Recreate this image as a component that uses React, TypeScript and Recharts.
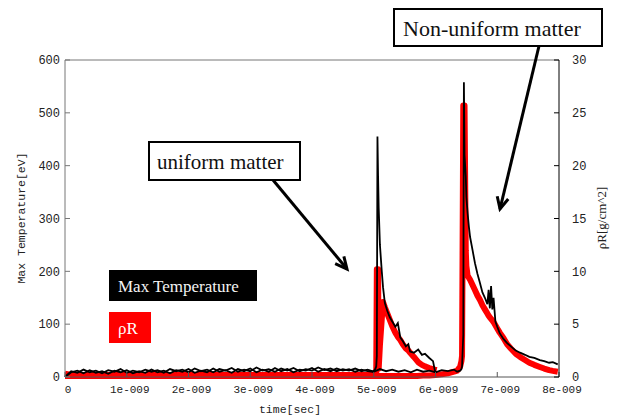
import React from 'react';
import { LineChart, Line, XAxis, YAxis, ReferenceLine } from 'recharts';

// time in units of 1e-009 sec
const uniformTime = [
  0, 0.1, 0.2, 0.3, 0.4, 0.5, 0.6, 0.7, 0.8, 0.9,
  1.0, 1.1, 1.2, 1.3, 1.4, 1.5, 1.6, 1.7, 1.8, 1.9,
  2.0, 2.1, 2.2, 2.3, 2.4, 2.5, 2.6, 2.7, 2.8, 2.9,
  3.0, 3.1, 3.2, 3.3, 3.4, 3.5, 3.6, 3.7, 3.8, 3.9,
  4.0, 4.1, 4.2, 4.3, 4.4, 4.5, 4.6, 4.7, 4.8, 4.9,
  4.98, 5.0, 5.02, 5.04, 5.05, 5.06, 5.07, 5.08, 5.1, 5.13,
  5.15, 5.18, 5.22, 5.26, 5.3, 5.35, 5.39, 5.43, 5.47, 5.52,
  5.56, 5.59, 5.65, 5.72, 5.78, 5.83, 5.9, 5.96, 5.99, 6.02,
];
const uniformTemp = [
  0, 9, 12, 7, 13, 8, 11, 6, 12, 9,
  13, 7, 11, 8, 14, 9, 12, 7, 13, 10,
  15, 8, 12, 9, 16, 10, 13, 8, 15, 11,
  16, 9, 14, 10, 17, 11, 15, 9, 14, 12,
  17, 10, 15, 11, 16, 12, 15, 10, 14, 11,
  10, 12, 14, 20, 40, 455, 380, 320, 250, 200,
  170, 140, 125, 113, 105, 95, 102, 75, 68, 58,
  62, 48, 46, 52, 42, 44, 36, 30, 12, 8,
];
const uniformRho = [
  0.3, 0.2, 0.2, 0.2, 0.2, 0.2, 0.2, 0.2, 0.2, 0.2,
  0.2, 0.2, 0.2, 0.2, 0.2, 0.2, 0.2, 0.2, 0.2, 0.2,
  0.2, 0.2, 0.2, 0.2, 0.2, 0.2, 0.2, 0.2, 0.2, 0.2,
  0.2, 0.2, 0.2, 0.2, 0.2, 0.2, 0.2, 0.2, 0.2, 0.2,
  0.2, 0.2, 0.2, 0.2, 0.2, 0.2, 0.2, 0.2, 0.2, 0.2,
  0.2, 0.3, 0.3, 0.3, 10.2, 10.2, 10.2, 0.8, 3.0, 5.5,
  7.1, 6.6, 6.0, 5.4, 4.8, 4.2, 3.8, 3.5, 3.1, 2.7,
  2.5, 2.3, 1.9, 1.4, 1.15, 1.0, 0.85, 0.75, 0.7, 0.66,
];

const nonUniformTime = [
  0, 0.1, 0.2, 0.3, 0.4, 0.5, 0.6, 0.7, 0.8, 0.9,
  1.0, 1.1, 1.2, 1.3, 1.4, 1.5, 1.6, 1.7, 1.8, 1.9,
  2.0, 2.1, 2.2, 2.3, 2.4, 2.5, 2.6, 2.7, 2.8, 2.9,
  3.0, 3.1, 3.2, 3.3, 3.4, 3.5, 3.6, 3.7, 3.8, 3.9,
  4.0, 4.1, 4.2, 4.3, 4.4, 4.5, 4.6, 4.7, 4.8, 4.9,
  5.0, 5.1, 5.2, 5.3, 5.4, 5.5, 5.6, 5.7, 5.8, 5.9,
  6.0, 6.1, 6.2, 6.3, 6.35, 6.4, 6.42, 6.43, 6.45, 6.46,
  6.47, 6.49, 6.5, 6.52, 6.54, 6.56, 6.6, 6.64, 6.68, 6.72,
  6.76, 6.8, 6.84, 6.86, 6.88, 6.9, 6.92, 6.94, 6.97, 7.0,
  7.04, 7.1, 7.16, 7.22, 7.3, 7.37, 7.45, 7.52, 7.6, 7.69,
  7.76, 7.84, 7.9, 7.98,
];
const nonUniformTemp = [
  0, 11, 8, 14, 9, 12, 7, 13, 10, 15,
  8, 12, 9, 14, 10, 13, 8, 15, 11, 14,
  9, 16, 11, 14, 9, 15, 12, 17, 10, 14,
  11, 18, 12, 15, 10, 16, 12, 17, 11, 15,
  12, 18, 13, 16, 11, 15, 12, 16, 11, 14,
  10, 15, 11, 14, 10, 13, 9, 14, 10, 12,
  9, 13, 11, 14, 10, 12, 15, 20, 80, 558,
  420, 380, 340, 310, 285, 265, 240, 215, 195, 178,
  160, 150, 138, 165, 130, 172, 128, 150, 105, 95,
  83, 72, 64, 58, 50, 46, 42, 38, 36, 32,
  30, 27, 28, 24,
];
const nonUniformRho = [
  0.1, 0.1, 0.1, 0.1, 0.1, 0.1, 0.1, 0.1, 0.1, 0.1,
  0.1, 0.1, 0.1, 0.1, 0.1, 0.1, 0.1, 0.1, 0.1, 0.1,
  0.1, 0.1, 0.1, 0.1, 0.1, 0.1, 0.1, 0.1, 0.1, 0.1,
  0.1, 0.1, 0.1, 0.1, 0.1, 0.1, 0.1, 0.1, 0.1, 0.1,
  0.1, 0.1, 0.1, 0.1, 0.1, 0.1, 0.1, 0.1, 0.1, 0.1,
  0.1, 0.1, 0.1, 0.1, 0.1, 0.1, 0.1, 0.1, 0.15, 0.15,
  0.2, 0.25, 0.35, 0.5, 0.6, 1.0, 1.5, 2.0, 25.7, 25.7,
  25.7, 12, 10.5, 9.6, 9.4, 9.2, 8.7, 8.2, 7.7, 7.3,
  6.8, 6.4, 6.0, 5.8, 5.65, 5.5, 5.35, 5.2, 4.9, 4.6,
  4.2, 3.7, 3.1, 2.7, 2.2, 1.9, 1.6, 1.35, 1.15, 0.95,
  0.8, 0.65, 0.58, 0.5,
];

const timeTicks = [0, 1, 2, 3, 4, 5, 6, 7, 8];
const tempTicks = [0, 100, 200, 300, 400, 500, 600];
const rhoTicks = [0, 5, 10, 15, 20, 25, 30];

const uniformData = uniformTime.map((t, i) => ({ t, temp: uniformTemp[i], rho: uniformRho[i] }));
const nonUniformData = nonUniformTime.map((t, i) => ({ t, temp: nonUniformTemp[i], rho: nonUniformRho[i] }));

const arrowHead = (x1: number, y1: number, x2: number, y2: number, len = 13) => {
  const a = Math.atan2(y2 - y1, x2 - x1);
  const p = (d: number) => `${x2 - len * Math.cos(a + d)},${y2 - len * Math.sin(a + d)}`;
  return `${p(0.45)} ${x2},${y2} ${p(-0.45)}`;
};

const serif = '"Liberation Serif", "Times New Roman", serif';
const mono = '"Liberation Mono", "DejaVu Sans Mono", monospace';

const App: React.FC = () => {
  return (
    <div style={{ position: 'relative', width: 621, height: 418, background: '#fff' }}>
      <style>{'body{margin:0}'}</style>
      <LineChart width={621} height={418} margin={{ top: 60, right: 0, bottom: 0, left: 0 }}>
        <XAxis
          dataKey="t"
          type="number"
          domain={[0, 8]}
          ticks={timeTicks}
          allowDuplicatedCategory={false}
          height={41}
          stroke="#555"
          tickSize={-5}
          tickMargin={13}
          tick={{ fill: '#222', fontSize: 11, fontFamily: mono, dx: 3 }}
          tickFormatter={(v: number) => (v === 0 ? '0' : `${v}e-009`)}
        />
        <YAxis
          yAxisId="left"
          domain={[0, 600]}
          ticks={tempTicks}
          width={65}
          stroke="#777"
          tickSize={-5}
          tickMargin={10}
          tick={{ fill: '#222', fontSize: 12, fontFamily: mono }}
        />
        <YAxis
          yAxisId="right"
          orientation="right"
          domain={[0, 30]}
          ticks={rhoTicks}
          width={62}
          stroke="#000"
          tickSize={-5}
          tickMargin={18}
          tick={{ fill: '#222', fontSize: 12, fontFamily: mono }}
        />
        <ReferenceLine yAxisId="left" y={600} stroke="#777" />
        <Line data={nonUniformData} dataKey="rho" yAxisId="right" type="linear" stroke="#ff0000" strokeWidth={6} strokeLinejoin="round" dot={false} isAnimationActive={false} />
        <Line data={uniformData} dataKey="rho" yAxisId="right" type="linear" stroke="#ff0000" strokeWidth={6} strokeLinejoin="round" dot={false} isAnimationActive={false} />
        <Line data={nonUniformData} dataKey="temp" yAxisId="left" type="linear" stroke="#000" strokeWidth={1.8} dot={false} isAnimationActive={false} />
        <Line data={uniformData} dataKey="temp" yAxisId="left" type="linear" stroke="#000" strokeWidth={1.8} dot={false} isAnimationActive={false} />
      </LineChart>

      <svg width={621} height={418} style={{ position: 'absolute', left: 0, top: 0, pointerEvents: 'none' }}>
        <text transform="translate(25,218) rotate(-90)" textAnchor="middle" fontFamily={mono} fontSize={11.5} fill="#222">
          Max Temperature[eV]
        </text>
        <text transform="translate(606,218) rotate(-90)" textAnchor="middle" fontFamily={serif} fontSize={13} fill="#222">
          ρR[g/cm^2]
        </text>
        <text x={290} y={413} textAnchor="middle" fontFamily={mono} fontSize={11.5} fill="#222">
          time[sec]
        </text>

        <rect x={109} y={270} width={148} height={31} fill="#000" />
        <text x={118} y={292} fontFamily={serif} fontSize={17} fill="#f4f4f4">Max Temperature</text>
        <rect x={109} y={312} width={42} height={31} fill="#ff0000" />
        <text x={118} y={334} fontFamily={serif} fontSize={17} fill="#fff">ρR</text>

        <line x1={273} y1={180} x2={347} y2={269} stroke="#000" strokeWidth={3} />
        <polyline points={arrowHead(273, 180, 347, 269)} fill="none" stroke="#000" strokeWidth={3} />
        <rect x={149} y={142} width={151} height={38} fill="#fff" stroke="#000" strokeWidth={2} />
        <text x={157} y={169} fontFamily={serif} fontSize={21} fill="#111">uniform matter</text>

        <line x1={539} y1={46} x2={500} y2={209} stroke="#000" strokeWidth={3} />
        <polyline points={arrowHead(539, 46, 500, 209)} fill="none" stroke="#000" strokeWidth={3} />
        <rect x={394} y={9} width={208} height={37} fill="#fff" stroke="#000" strokeWidth={2} />
        <text x={403} y={36} fontFamily={serif} fontSize={22} fill="#111">Non-uniform matter</text>
      </svg>
    </div>
  );
};

export default App;
